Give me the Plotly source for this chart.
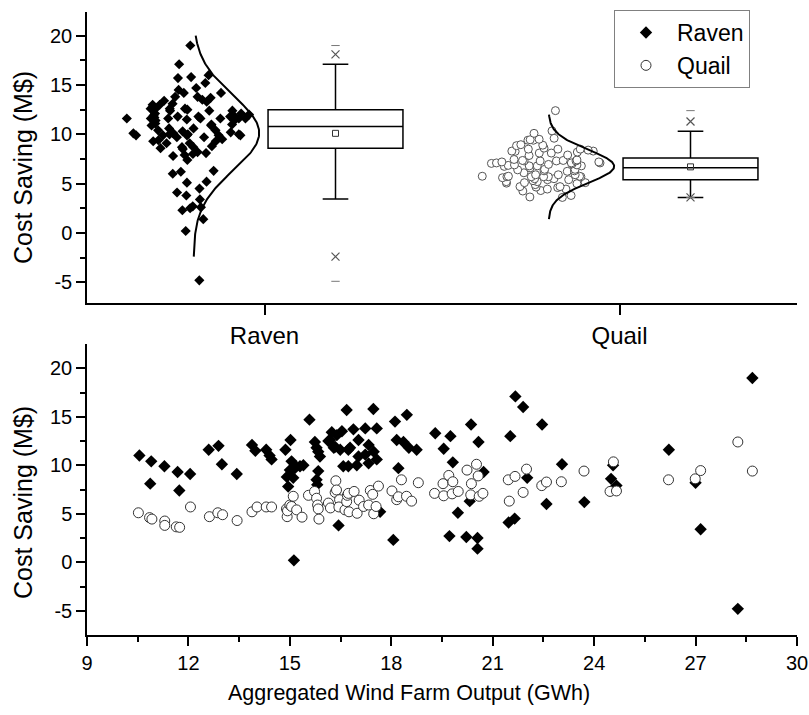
import numpy as np
import plotly.graph_objects as go

# ---------------- data ----------------
groups = ["Raven", "Quail"]

raven_x = [10.55, 10.87, 10.90, 11.29, 11.68, 11.73, 12.05, 12.60, 12.89, 12.99,
           13.43, 13.88, 13.98, 14.30, 14.40, 14.46, 14.87, 14.91, 14.95, 15.00,
           15.02, 15.05, 15.10, 15.12, 15.17, 15.30, 15.40, 15.15, 15.58, 15.74,
           15.79, 15.84, 15.89, 15.84, 15.79, 15.81, 16.14, 16.24, 16.19, 16.30,
           16.34, 16.39, 16.44, 16.49, 16.54, 16.58, 16.68, 16.73, 16.78, 16.73,
           16.88, 16.98, 17.03, 17.03, 17.23, 17.23, 17.33, 17.33, 17.47, 17.48,
           17.57, 17.57, 17.67, 18.06, 18.11, 18.16, 18.21, 18.36, 18.46, 18.52,
           18.75, 19.30, 19.55, 19.75, 19.72, 19.82, 19.97, 20.22, 20.32, 20.36,
           20.55, 20.55, 20.58, 20.73, 21.47, 21.52, 21.65, 21.67, 21.90, 22.02,
           22.46, 22.59, 23.05, 23.71, 24.50, 24.56, 24.66, 26.21, 27.00, 27.15,
           28.25, 28.68]
raven_y = [11.0, 8.1, 10.4, 9.9, 9.3, 7.4, 9.1, 11.6, 12.0, 10.1,
           9.1, 12.1, 11.5, 11.6, 11.0, 10.6, 11.6, 8.8, 7.8, 9.5,
           12.6, 10.4, 8.7, 0.2, 9.9, 9.9, 10.0, 9.7, 14.7, 12.4,
           11.8, 11.4, 10.9, 9.4, 8.5, 8.0, 12.5, 13.4, 12.6, 11.8,
           11.9, 13.1, 3.8, 11.6, 13.5, 9.9, 15.7, 11.6, 11.8, 9.9,
           13.7, 10.0, 12.6, 10.9, 13.8, 11.1, 12.1, 10.2, 15.8, 11.4,
           13.8, 10.6, 5.2, 2.3, 14.5, 12.6, 9.7, 12.4, 15.2, 11.8,
           11.6, 13.3, 11.7, 13.0, 2.7, 10.3, 5.1, 2.6, 6.3, 14.2,
           2.5, 1.4, 12.4, 9.3, 4.1, 13.0, 4.5, 17.1, 16.0, 8.7,
           14.2, 6.0, 10.1, 6.2, 8.6, 10.0, 7.9, 11.6, 8.2, 3.4,
           -4.8, 19.0]

quail_x = [10.52, 10.85, 10.92, 11.30, 11.30, 11.64, 11.74, 12.06, 12.62, 12.87,
           13.01, 13.44, 13.88, 14.03, 14.30, 14.46, 14.90, 14.92, 14.93, 15.00,
           15.05, 15.10, 15.20, 15.36, 15.55, 15.73, 15.79, 15.82, 15.84, 15.86,
           16.14, 16.20, 16.34, 16.36, 16.38, 16.47, 16.45, 16.63, 16.68, 16.70,
           16.73, 16.75, 16.90, 16.99, 17.05, 17.18, 17.33, 17.38, 17.45, 17.48,
           17.55, 17.62, 18.02, 18.16, 18.21, 18.30, 18.45, 18.60, 18.80, 19.28,
           19.53, 19.55, 19.70, 19.80, 19.82, 19.98, 20.24, 20.35, 20.37, 20.52,
           20.57, 20.60, 20.71, 21.46, 21.49, 21.66, 21.90, 22.00, 22.45, 22.59,
           23.03, 23.70, 24.47, 24.57, 24.66, 26.20, 26.99, 27.15, 28.25, 28.68]
quail_y = [5.1, 4.6, 4.45, 4.25, 3.8, 3.65, 3.6, 5.7, 4.7, 5.1,
           4.9, 4.3, 5.2, 5.7, 5.7, 5.7, 5.5, 4.7, 5.3, 5.9,
           5.75, 6.8, 5.4, 4.65, 6.9, 7.3, 6.6, 5.9, 5.5, 4.45,
           6.1, 5.6, 7.2, 8.4, 7.45, 6.45, 5.7, 5.4, 6.25, 6.9,
           7.1, 5.2, 7.3, 5.05, 6.4, 5.75, 5.9, 7.4, 7.0, 5.0,
           5.75, 7.85, 7.35, 6.45, 6.75, 8.5, 6.8, 6.3, 8.2, 7.1,
           8.1, 6.85, 8.95, 7.05, 8.3, 7.3, 9.5, 6.95, 8.1, 10.1,
           8.9, 6.8, 7.1, 8.5, 6.3, 8.85, 7.2, 9.6, 7.9, 8.27,
           8.3, 9.4, 7.3, 10.35, 7.35, 8.5, 8.6, 9.45, 12.4, 9.4]

# box-chart summaries
box_q1 = [8.6, 5.4]
box_median = [10.8, 6.6]
box_q3 = [12.5, 7.6]
box_whisker_lo = [3.45, 3.6]
box_whisker_hi = [17.1, 10.3]
box_mean = [10.1, 6.7]
pct_lo = [-2.4, 3.6]      # 1 % marks (x)
pct_hi = [18.1, 11.3]     # 99 % marks (x)
val_min = [-4.9, 3.6]     # min marks (dash)
val_max = [19.0, 12.4]    # max marks (dash)
curve_lo = [-2.4, 1.4]
curve_hi = [20.0, 12.0]

y_title = "Cost Saving (M$)"
x_title = "Aggregated Wind Farm Output (GWh)"

FONT = "Arial, Liberation Sans, sans-serif"
W, H = 809, 715

group_y = [raven_y, quail_y]
marker_top = [
    dict(symbol="diamond", size=7.8, color="black", line=dict(width=0)),
    dict(symbol="circle", size=8, color="white", line=dict(color="#555555", width=1)),
]

fig = go.Figure()

for i, name in enumerate(groups):
    pos = i + 1
    ys = group_y[i]
    # jittered data points (box itself invisible)
    fig.add_trace(go.Box(
        x=[pos] * len(ys), y=ys, boxpoints="all", jitter=1, pointpos=-1,
        width=0.4, line=dict(width=0), fillcolor="rgba(0,0,0,0)",
        marker=marker_top[i], showlegend=False, hoverinfo="y",
        xaxis="x", yaxis="y"))
    # summary box
    fig.add_trace(go.Box(
        x=[pos + 0.2], q1=[box_q1[i]], median=[box_median[i]], q3=[box_q3[i]],
        lowerfence=[box_whisker_lo[i]], upperfence=[box_whisker_hi[i]],
        width=0.38, whiskerwidth=0.19, boxpoints=False,
        fillcolor="white", line=dict(color="black", width=1.5),
        showlegend=False, xaxis="x", yaxis="y"))
    # normal distribution curve from the data
    m = float(np.mean(ys))
    s = float(np.std(ys, ddof=1))
    yy = np.linspace(curve_lo[i], curve_hi[i], 200)
    dens = np.exp(-0.5 * ((yy - m) / s) ** 2)
    fig.add_trace(go.Scatter(
        x=pos - 0.2 + 0.185 * dens, y=yy, mode="lines",
        line=dict(color="black", width=2), showlegend=False,
        hoverinfo="skip", xaxis="x", yaxis="y"))
    # mean, percentile and min/max marks
    fig.add_trace(go.Scatter(
        x=[pos + 0.2], y=[box_mean[i]], mode="markers",
        marker=dict(symbol="square-open", size=6, color="#333333", line=dict(width=1)),
        showlegend=False, xaxis="x", yaxis="y"))
    fig.add_trace(go.Scatter(
        x=[pos + 0.2, pos + 0.2], y=[pct_lo[i], pct_hi[i]], mode="markers",
        marker=dict(symbol="x-thin-open", size=8, color="#555555", line=dict(width=1.2, color="#555555")),
        showlegend=False, xaxis="x", yaxis="y"))
    fig.add_trace(go.Scatter(
        x=[pos + 0.2, pos + 0.2], y=[val_min[i], val_max[i]], mode="markers",
        marker=dict(symbol="line-ew-open", size=6, color="#777777", line=dict(width=1, color="#777777")),
        showlegend=False, xaxis="x", yaxis="y"))

# bottom scatter panel
fig.add_trace(go.Scatter(
    x=raven_x, y=raven_y, mode="markers", name="Raven",
    marker=dict(symbol="diamond", size=9.5, color="black", line=dict(width=0)),
    xaxis="x2", yaxis="y2"))
fig.add_trace(go.Scatter(
    x=quail_x, y=quail_y, mode="markers", name="Quail",
    marker=dict(symbol="circle", size=10, color="white", line=dict(color="#333333", width=1)),
    xaxis="x2", yaxis="y2"))

xdom = [87 / W, 797 / W]
ydom_top = [1 - 303 / H, 1 - 12 / H]
ydom_bot = [1 - 635 / H, 1 - 344 / H]

axis_common = dict(showline=True, linecolor="black", linewidth=1.5, ticks="outside",
                   tickcolor="black", tickwidth=1.5, showgrid=False, zeroline=False,
                   automargin=False,
                   tickfont=dict(family=FONT, size=20, color="black"))

yticks = [-5, 0, 5, 10, 15, 20]
ytext = ["-5", "0", "5", "10", "15", "20"]
yminor = dict(tickmode="array", tickvals=[-2.5, 2.5, 7.5, 12.5, 17.5], ticklen=5,
              ticks="outside", tickcolor="black", tickwidth=1.5)

fig.update_layout(
    width=W, height=H, margin=dict(l=0, r=0, t=0, b=0, autoexpand=False),
    paper_bgcolor="white", plot_bgcolor="white",
    boxmode="overlay",
    font=dict(family=FONT, color="black"),
    xaxis=dict(domain=xdom, range=[0.5, 2.5], tickmode="array", tickvals=[1, 2],
               ticktext=groups, ticklen=10, anchor="y", **{**axis_common,
               "tickfont": dict(family=FONT, size=24, color="black")}),
    yaxis=dict(domain=ydom_top, range=[-7.1, 22.4], tickmode="array", tickvals=yticks,
               ticktext=ytext, ticklen=9, minor=yminor, anchor="x", **axis_common),
    xaxis2=dict(domain=xdom, range=[9, 30], tickmode="linear", tick0=9, dtick=3,
                ticklen=9, minor=dict(tickmode="linear", tick0=9, dtick=1.5, ticklen=5,
                                      ticks="outside", tickcolor="black", tickwidth=1.5),
                anchor="y2", **axis_common),
    yaxis2=dict(domain=ydom_bot, range=[-7.5, 22.5], tickmode="array", tickvals=yticks,
                ticktext=ytext, ticklen=9, minor=yminor, anchor="x2", **axis_common),
    legend=dict(x=614 / W, y=1 - 10 / H, xanchor="left", yanchor="top",
                bordercolor="#808080", borderwidth=1, bgcolor="white",
                font=dict(family=FONT, size=23, color="black"), itemwidth=52,
                tracegroupgap=0),
    annotations=[
        dict(text=y_title, x=23 / W, y=1 - 168 / H, xref="paper", yref="paper",
             textangle=-90, showarrow=False, xanchor="center", yanchor="middle",
             font=dict(family=FONT, size=25, color="black")),
        dict(text=y_title, x=23 / W, y=1 - 503 / H, xref="paper", yref="paper",
             textangle=-90, showarrow=False, xanchor="center", yanchor="middle",
             font=dict(family=FONT, size=25, color="black")),
        dict(text=x_title, x=409 / W, y=1 - 693 / H, xref="paper", yref="paper",
             showarrow=False, xanchor="center", yanchor="middle",
             font=dict(family=FONT, size=21.5, color="black")),
    ],
)

fig.write_html("out.html")
